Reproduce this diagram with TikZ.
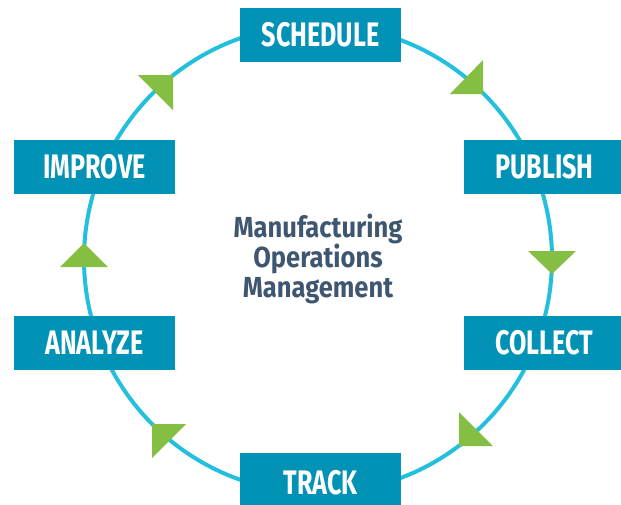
\documentclass[tikz,border=0pt]{standalone}
\usepackage{fontspec}
\newfontfamily\lblfont[FakeStretch=0.74]{Fira Sans}
\newfontfamily\ctrfont[FakeStretch=0.88]{Fira Sans}
\definecolor{boxblue}{HTML}{0192B5}
\definecolor{ringcyan}{HTML}{22C0DC}
\definecolor{arrowgreen}{HTML}{84BE42}
\definecolor{ctrtext}{HTML}{3E5670}
\tikzset{
  stage/.style={fill=boxblue, text=white, minimum width=161pt, minimum height=54pt,
    inner sep=0pt, font=\lblfont\bfseries\fontsize{34}{34}\selectfont},
  ring/.style={draw=ringcyan, line width=4pt},
  tri/.style={fill=arrowgreen},
}
\begin{document}
\begin{tikzpicture}[x=1pt,y=-1pt]
\useasboundingbox (0,0) rectangle (621,504);
\clip (0,0) rectangle (621,504);
\coordinate (c) at (318,259);
\draw[ring] (c) circle[radius=234];
% arrowheads
\fill[tri] (483,60) -- (450,94) -- (483,94) -- cycle;
\fill[tri] (528,251) -- (576,251) -- (552,274) -- cycle;
\fill[tri] (459,412) -- (493,446) -- (459,446) -- cycle;
\fill[tri] (152,424) -- (186,424) -- (152,458) -- cycle;
\fill[tri] (84,243) -- (60,267) -- (108,267) -- cycle;
\fill[tri] (138,75) -- (173,75) -- (173,110) -- cycle;
% stages
\node[stage] (schedule) at (320.5,34.5) {SCHEDULE};
\node[stage] (publish) at (544.5,166.5) {PUBLISH};
\node[stage] (collect) at (544.5,342.5) {COLLECT};
\node[stage, minimum height=60pt] (track) at (320.5,483) {TRACK};
\node[stage] (analyze) at (94.5,342.5) {ANALYZE};
\node[stage] (improve) at (94.5,166.5) {IMPROVE};
\node[align=center, text=ctrtext, font=\ctrfont\bfseries\fontsize{29}{30}\selectfont] (title) at (318,259)
  {Manufacturing\\Operations\\Management};
\end{tikzpicture}
\end{document}
